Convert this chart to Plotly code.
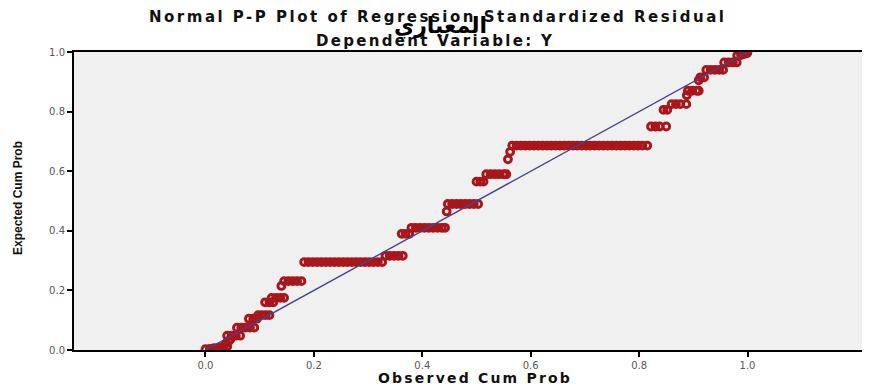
import plotly.graph_objects as go

# Observed cumulative probability (x) and expected cumulative probability (y)
obs_cum_prob = [
    0.000, 0.008, 0.016, 0.024, 0.032, 0.040,
    0.038, 0.043, 0.046,
    0.040, 0.048, 0.056, 0.064,
    0.058, 0.066, 0.074, 0.082, 0.090,
    0.080, 0.088, 0.095,
    0.097, 0.104, 0.111, 0.118,
    0.110, 0.118, 0.125,
    0.122, 0.130, 0.138, 0.145,
    0.140,
    0.145, 0.153, 0.161, 0.169, 0.177,
    0.182, 0.190, 0.198, 0.206, 0.214, 0.222, 0.230, 0.238, 0.246, 0.254,
    0.262, 0.270, 0.278, 0.286, 0.294, 0.302, 0.310, 0.318, 0.326,
    0.332, 0.340, 0.348, 0.356, 0.364,
    0.362, 0.369, 0.376,
    0.380, 0.388, 0.396, 0.404, 0.412, 0.420, 0.428, 0.436, 0.442,
    0.445,
    0.447, 0.455, 0.463, 0.471, 0.479, 0.487, 0.495, 0.503,
    0.500, 0.507, 0.513,
    0.518, 0.526, 0.534, 0.542, 0.550, 0.555,
    0.558, 0.562,
    0.566, 0.574, 0.582, 0.590, 0.598, 0.606, 0.614, 0.622, 0.630, 0.638,
    0.646, 0.654, 0.662, 0.670, 0.678, 0.686, 0.694, 0.702, 0.710, 0.718,
    0.726, 0.734, 0.742, 0.750, 0.758, 0.766, 0.774, 0.782, 0.790, 0.798,
    0.806, 0.815,
    0.822, 0.830, 0.838, 0.850,
    0.845, 0.852,
    0.860, 0.868, 0.876, 0.887,
    0.888,
    0.890, 0.898, 0.906, 0.910,
    0.910,
    0.913, 0.920,
    0.924, 0.932, 0.940, 0.948, 0.955,
    0.957, 0.965, 0.973, 0.980,
    0.981, 0.988, 0.994, 0.999,
    1.000,
]
exp_cum_prob = [
    0.003, 0.004, 0.006, 0.008, 0.010, 0.012,
    0.022, 0.030, 0.036,
    0.048, 0.048, 0.048, 0.048,
    0.075, 0.075, 0.075, 0.075, 0.075,
    0.105, 0.105, 0.105,
    0.117, 0.117, 0.117, 0.117,
    0.160, 0.160, 0.160,
    0.175, 0.175, 0.175, 0.175,
    0.215,
    0.231, 0.231, 0.231, 0.231, 0.231,
    0.295, 0.295, 0.295, 0.295, 0.295, 0.295, 0.295, 0.295, 0.295, 0.295,
    0.295, 0.295, 0.295, 0.295, 0.295, 0.295, 0.295, 0.295, 0.295,
    0.316, 0.316, 0.316, 0.316, 0.316,
    0.390, 0.390, 0.390,
    0.410, 0.410, 0.410, 0.410, 0.410, 0.410, 0.410, 0.410, 0.410,
    0.465,
    0.490, 0.490, 0.490, 0.490, 0.490, 0.490, 0.490, 0.490,
    0.565, 0.565, 0.565,
    0.590, 0.590, 0.590, 0.590, 0.590, 0.590,
    0.640, 0.665,
    0.686, 0.686, 0.686, 0.686, 0.686, 0.686, 0.686, 0.686, 0.686, 0.686,
    0.686, 0.686, 0.686, 0.686, 0.686, 0.686, 0.686, 0.686, 0.686, 0.686,
    0.686, 0.686, 0.686, 0.686, 0.686, 0.686, 0.686, 0.686, 0.686, 0.686,
    0.686, 0.686,
    0.750, 0.750, 0.750, 0.750,
    0.806, 0.806,
    0.825, 0.825, 0.825, 0.825,
    0.855,
    0.870, 0.870, 0.870, 0.870,
    0.905,
    0.915, 0.915,
    0.940, 0.940, 0.940, 0.940, 0.940,
    0.965, 0.965, 0.965, 0.965,
    0.988, 0.990, 0.993, 0.996,
    1.000,
]

ref_line_x = [0.0, 1.0]
ref_line_y = [0.0, 1.0]

tick_vals = [0.0, 0.2, 0.4, 0.6, 0.8, 1.0]
tick_text = ["0.0", "0.2", "0.4", "0.6", "0.8", "1.0"]

title_main = "Normal P-P Plot of Regression Standardized Residual"
title_sub = "Dependent Variable: Y"
title_arabic = "المعياري"
x_title = "Observed Cum Prob"
y_title = "Expected Cum Prob"

red = "#a8161b"

# page body has an 8px default margin; size the figure so it fits the window
OFF = 8
W, H = 870 - OFF, 386 - OFF
L, R, T, B = 74 - OFF, 2, 52 - OFF, 36

fig = go.Figure()
fig.add_trace(go.Scatter(
    x=obs_cum_prob, y=exp_cum_prob, mode="markers",
    marker=dict(symbol="circle-open", size=6.8, color=red, line=dict(width=3, color=red)),
    showlegend=False, hoverinfo="x+y",
))
fig.add_trace(go.Scatter(
    x=ref_line_x, y=ref_line_y, mode="lines",
    line=dict(color="#45458f", width=1.4),
    showlegend=False, hoverinfo="skip",
))


def spaced(txt, sp):
    return '<span style="letter-spacing:%spx"><b>%s</b></span>' % (sp, txt)


fig.update_layout(
    width=W, height=H,
    margin=dict(l=L, r=R, t=T, b=B, autoexpand=False),
    paper_bgcolor="white",
    plot_bgcolor="#f0f0f0",
    font=dict(family="Liberation Sans, Arial, sans-serif", color="#222"),
    xaxis=dict(
        range=[-0.2426, 1.2223], tickvals=tick_vals, ticktext=tick_text,
        showgrid=False, zeroline=False, showline=True, linecolor="black", linewidth=2,
        mirror=True, ticks="outside", ticklen=5, tickwidth=2, tickcolor="black",
        tickfont=dict(size=10, color="#555", family="DejaVu Sans, sans-serif"),
        automargin=False,
    ),
    yaxis=dict(
        range=[0, 1], tickvals=tick_vals, ticktext=tick_text,
        showgrid=False, zeroline=False, showline=True, linecolor="black", linewidth=2,
        ticks="outside", ticklen=5, tickwidth=2, tickcolor="black",
        tickfont=dict(size=10, color="#555", family="DejaVu Sans, sans-serif"),
        automargin=False,
    ),
    annotations=[
        dict(text=spaced(title_main, 2.5), x=437, y=17, xref="paper", yref="paper",
             showarrow=False, font=dict(size=15, family="DejaVu Sans, sans-serif", color="#111")),
        dict(text=spaced(title_sub, 2.3), x=435, y=41, xref="paper", yref="paper",
             showarrow=False, font=dict(size=15, family="DejaVu Sans, sans-serif", color="#111")),
        dict(text="<b>" + title_arabic + "</b>", x=440, y=26, xref="paper", yref="paper",
             showarrow=False, font=dict(size=22, family="DejaVu Sans, Noto Sans, sans-serif", color="black")),
        dict(text=spaced(x_title, 2.2), x=475, y=378, xref="paper", yref="paper",
             showarrow=False, font=dict(size=14, family="DejaVu Sans, sans-serif", color="#111")),
        dict(text="<b>" + y_title + "</b>", x=18, y=198, xref="paper", yref="paper",
             showarrow=False, textangle=-90,
             font=dict(size=12, family="Liberation Sans Narrow, Liberation Sans, sans-serif", color="#111")),
    ],
)

# convert page-pixel annotation positions to paper coordinates
pw = W - L - R
ph = H - T - B
for a in fig.layout.annotations:
    px_x, px_y = a.x - OFF, a.y - OFF
    a.x = (px_x - L) / pw
    a.y = (H - B - px_y) / ph
    a.xanchor = "center"
    a.yanchor = "middle"

fig.write_html("out.html")
